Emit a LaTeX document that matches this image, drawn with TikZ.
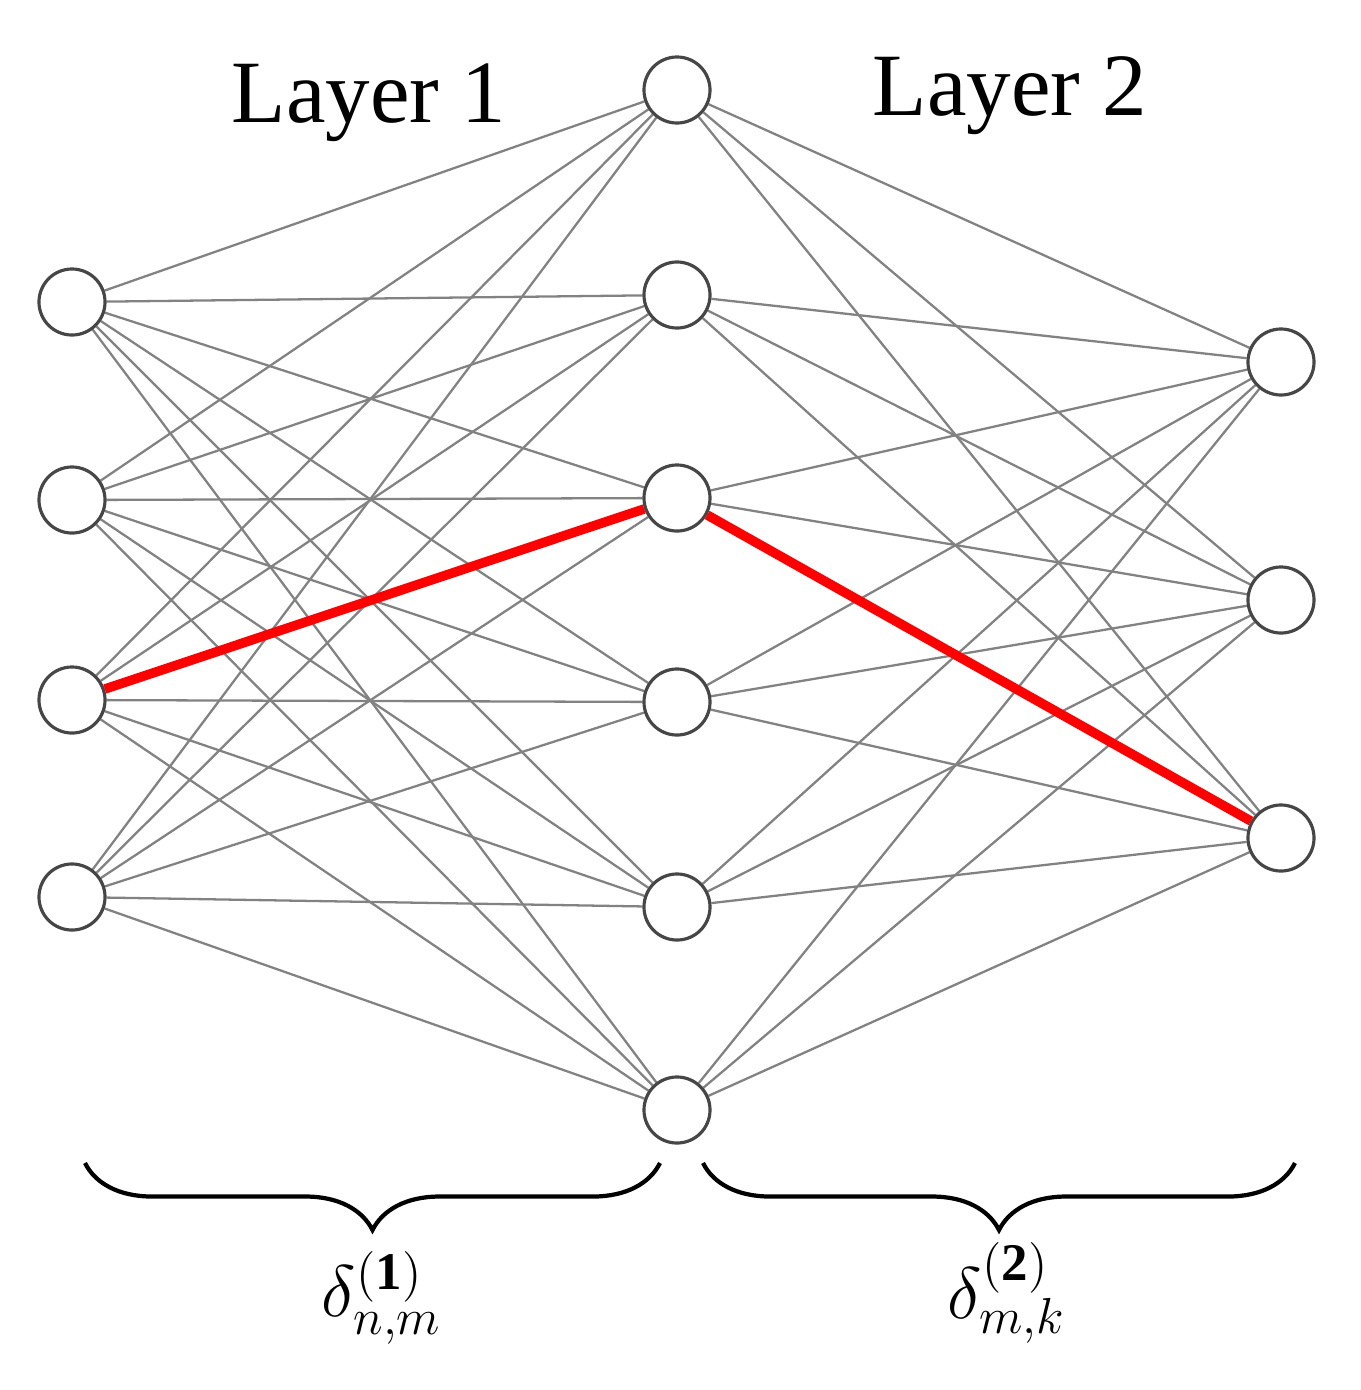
\documentclass[tikz,border=0pt]{standalone}
\usepackage{fontspec}
\setmainfont{Liberation Serif}
\usetikzlibrary{decorations.pathreplacing,backgrounds}
\definecolor{edgegray}{RGB}{130,130,130}
\definecolor{ringgray}{RGB}{70,70,70}
\begin{document}
\begin{tikzpicture}[x=0.01cm,y=-0.01cm,
  neuron/.style={circle,draw=ringgray,line width=0.9pt,fill=white,minimum size=0.66cm,inner sep=0pt},
  conn/.style={draw=edgegray,line width=0.65pt},
  hot/.style={draw=red,line width=2.7pt},
  brc/.style={decorate,decoration={brace,mirror,amplitude=0.67cm},line width=1.2pt},
  ttl/.style={font=\fontsize{25.3}{30}\selectfont,inner sep=0pt,anchor=base},
  dlt/.style={font=\fontsize{21.5}{26}\selectfont,inner sep=0pt}]
\useasboundingbox (0,0) rectangle (1361,1390);
% nodes
\node[neuron] (a1) at (72,302) {};
\node[neuron] (a2) at (72,500) {};
\node[neuron] (a3) at (72,700) {};
\node[neuron] (a4) at (72,897) {};
\node[neuron] (b1) at (677,90) {};
\node[neuron] (b2) at (677,295) {};
\node[neuron] (b3) at (677,498) {};
\node[neuron] (b4) at (677,702) {};
\node[neuron] (b5) at (677,907) {};
\node[neuron] (b6) at (677,1110) {};
\node[neuron] (c1) at (1281,362) {};
\node[neuron] (c2) at (1281,600) {};
\node[neuron] (c3) at (1281,838) {};
% edges
\begin{scope}[on background layer]
\foreach \i in {1,...,4}{\foreach \j in {1,...,6}{\draw[conn] (a\i) -- (b\j);}}
\foreach \j in {1,...,6}{\foreach \k in {1,...,3}{\draw[conn] (b\j) -- (c\k);}}
\end{scope}
\draw[hot] (a3) -- (b3);
\draw[hot] (b3) -- (c3);
% titles
\node[ttl] (t1) at (369,122) {Layer 1};
\node[ttl] (t2) at (1010,115) {Layer 2};
% braces
\coordinate (l1) at (85,1163);
\coordinate (l2) at (660,1163);
\coordinate (r1) at (703,1163);
\coordinate (r2) at (1295,1163);
\draw[brc] (l1) -- (l2);
\draw[brc] (r1) -- (r2);
\node[dlt] (d1) at (382,1298) {$\delta^{(\mathbf{1})}_{n,m}$};
\node[dlt] (d2) at (1007,1293) {$\delta^{(\mathbf{2})}_{m,k}$};
\end{tikzpicture}
\end{document}
